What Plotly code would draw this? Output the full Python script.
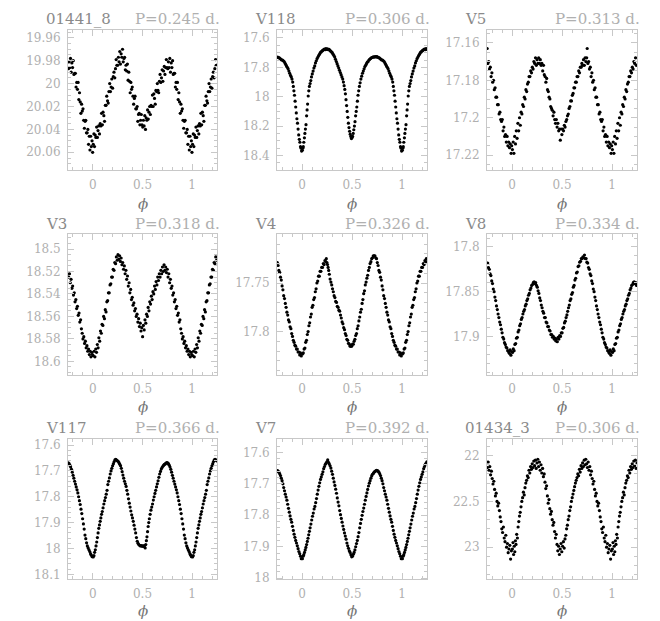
import plotly.graph_objects as go

# ---------------- data (phase in [0,1), magnitude) ----------------
names = ["01441_8", "V118", "V5", "V3", "V4", "V8", "V117", "V7", "01434_3"]
periods = ["0.245", "0.306", "0.313", "0.318", "0.326", "0.334", "0.366", "0.392", "0.306"]

x_tickvals = [0, 0.5, 1]
x_ticktext = ["0", "0.5", "1"]

y_tickvals = [
    [19.96, 19.98, 20.0, 20.02, 20.04, 20.06],
    [17.6, 17.8, 18.0, 18.2, 18.4],
    [17.16, 17.18, 17.2, 17.22],
    [18.5, 18.52, 18.54, 18.56, 18.58, 18.6],
    [17.75, 17.8],
    [17.8, 17.85, 17.9],
    [17.6, 17.7, 17.8, 17.9, 18.0, 18.1],
    [17.6, 17.7, 17.8, 17.9, 18.0],
    [22.0, 22.5, 23.0],
]
y_ticktext = [
    ["19.96", "19.98", "20", "20.02", "20.04", "20.06"],
    ["17.6", "17.8", "18", "18.2", "18.4"],
    ["17.16", "17.18", "17.2", "17.22"],
    ["18.5", "18.52", "18.54", "18.56", "18.58", "18.6"],
    ["17.75", "17.8"],
    ["17.8", "17.85", "17.9"],
    ["17.6", "17.7", "17.8", "17.9", "18", "18.1"],
    ["17.6", "17.7", "17.8", "17.9", "18"],
    ["22", "22.5", "23"],
]

star_01441_8 = [
(0.004,20.053),(0.011,20.044),(0.017,20.055),(0.024,20.045),(0.031,20.047),(0.038,20.038),(0.046,20.047),(0.052,20.041),
(0.059,20.037),(0.067,20.044),(0.074,20.035),(0.081,20.037),(0.088,20.026),(0.096,20.036),(0.103,20.025),(0.111,20.028),
(0.118,20.033),(0.126,20.019),(0.133,20.019),(0.140,20.011),(0.148,20.015),(0.155,20.017),(0.162,20.007),(0.170,20.000),
(0.177,20.007),(0.184,20.003),(0.191,19.996),(0.199,20.004),(0.206,19.994),(0.213,19.990),(0.221,19.995),(0.228,19.987),
(0.235,19.979),(0.242,19.984),(0.250,19.984),(0.257,19.977),(0.264,19.981),(0.271,19.972),(0.278,19.983),(0.285,19.974),
(0.292,19.977),(0.299,19.970),(0.306,19.981),(0.313,19.978),(0.320,19.977),(0.327,19.988),(0.334,19.984),(0.341,19.989),
(0.348,19.983),(0.355,19.997),(0.362,19.990),(0.369,19.998),(0.376,20.008),(0.383,19.999),(0.390,20.005),(0.397,20.003),
(0.404,20.011),(0.411,20.018),(0.418,20.013),(0.425,20.011),(0.432,20.022),(0.439,20.022),(0.446,20.020),(0.453,20.033),
(0.460,20.027),(0.467,20.026),(0.474,20.036),(0.481,20.032),(0.488,20.027),(0.495,20.036),(0.502,20.038),(0.509,20.032),
(0.516,20.037),(0.523,20.028),(0.530,20.040),(0.537,20.030),(0.544,20.032),(0.551,20.023),(0.558,20.031),(0.565,20.025),
(0.572,20.020),(0.579,20.027),(0.586,20.019),(0.593,20.020),(0.600,20.010),(0.607,20.020),(0.614,20.009),(0.621,20.013),
(0.628,20.018),(0.635,20.006),(0.642,20.007),(0.649,20.000),(0.656,20.006),(0.663,20.008),(0.670,19.998),(0.677,19.992),
(0.684,19.999),(0.691,19.995),(0.698,19.988),(0.705,19.998),(0.712,19.989),(0.719,19.985),(0.726,19.992),(0.733,19.986),
(0.740,19.979),(0.747,19.986),(0.754,19.987),(0.761,19.981),(0.768,19.986),(0.775,19.978),(0.782,19.990),(0.789,19.982),
(0.796,19.986),(0.803,19.980),(0.810,19.992),(0.817,19.991),(0.824,19.991),(0.831,20.003),(0.838,19.999),(0.845,20.005),
(0.852,19.999),(0.859,20.014),(0.866,20.008),(0.873,20.016),(0.880,20.026),(0.887,20.018),(0.894,20.024),(0.901,20.022),
(0.908,20.032),(0.915,20.039),(0.922,20.033),(0.929,20.032),(0.936,20.043),(0.943,20.043),(0.950,20.040),(0.957,20.053),
(0.964,20.046),(0.971,20.058),(0.978,20.046),(0.985,20.055),(0.992,20.050),(0.998,20.060),
]

star_V118 = [
(0.003,18.365),(0.008,18.350),(0.013,18.340),(0.018,18.310),(0.024,18.280),(0.029,18.250),(0.034,18.220),(0.040,18.190),
(0.046,18.130),(0.051,18.090),(0.056,18.050),(0.062,17.995),(0.068,17.960),(0.074,17.930),(0.081,17.910),(0.088,17.890),
(0.095,17.865),(0.103,17.845),(0.111,17.825),(0.119,17.805),(0.127,17.790),(0.135,17.770),(0.143,17.755),(0.151,17.740),
(0.159,17.730),(0.167,17.720),(0.175,17.710),(0.183,17.700),(0.191,17.695),(0.199,17.690),(0.207,17.685),(0.215,17.680),
(0.223,17.675),(0.231,17.680),(0.239,17.672),(0.247,17.678),(0.255,17.674),(0.263,17.680),(0.271,17.677),(0.279,17.684),
(0.287,17.690),(0.295,17.695),(0.303,17.700),(0.311,17.710),(0.319,17.720),(0.327,17.730),(0.335,17.745),(0.343,17.760),
(0.351,17.775),(0.359,17.790),(0.367,17.805),(0.375,17.820),(0.383,17.835),(0.391,17.850),(0.399,17.865),(0.407,17.880),
(0.414,17.900),(0.421,17.925),(0.428,17.950),(0.434,17.980),(0.440,18.020),(0.446,18.060),(0.452,18.100),(0.458,18.140),
(0.464,18.180),(0.470,18.210),(0.476,18.235),(0.482,18.255),(0.488,18.270),(0.494,18.285),(0.500,18.280),(0.506,18.270),
(0.512,18.250),(0.518,18.225),(0.524,18.200),(0.530,18.170),(0.536,18.130),(0.542,18.100),(0.548,18.070),(0.554,18.030),
(0.560,17.990),(0.567,17.960),(0.574,17.930),(0.581,17.905),(0.589,17.880),(0.597,17.860),(0.605,17.840),(0.613,17.825),
(0.621,17.810),(0.629,17.795),(0.637,17.785),(0.645,17.775),(0.653,17.765),(0.661,17.760),(0.669,17.750),(0.677,17.745),
(0.685,17.740),(0.693,17.735),(0.701,17.733),(0.709,17.730),(0.717,17.728),(0.725,17.730),(0.733,17.726),(0.741,17.729),
(0.749,17.727),(0.757,17.731),(0.765,17.733),(0.773,17.736),(0.781,17.740),(0.789,17.745),(0.797,17.750),(0.805,17.750),
(0.813,17.755),(0.821,17.760),(0.829,17.770),(0.837,17.780),(0.845,17.790),(0.853,17.800),(0.861,17.810),(0.869,17.825),
(0.877,17.840),(0.885,17.855),(0.893,17.865),(0.900,17.880),(0.907,17.900),(0.913,17.930),(0.919,17.960),(0.925,17.990),
(0.931,18.030),(0.937,18.070),(0.943,18.110),(0.949,18.150),(0.955,18.180),(0.961,18.220),(0.967,18.260),(0.973,18.290),
(0.979,18.310),(0.985,18.340),(0.991,18.350),(0.996,18.370),
]

star_V5 = [
(0.004,17.217),(0.012,17.213),(0.019,17.219),(0.027,17.210),(0.035,17.214),(0.043,17.207),(0.051,17.211),(0.059,17.203),
(0.067,17.207),(0.075,17.200),(0.083,17.204),(0.091,17.197),(0.099,17.198),(0.107,17.193),(0.115,17.194),(0.123,17.189),
(0.131,17.190),(0.139,17.185),(0.147,17.186),(0.155,17.182),(0.163,17.181),(0.171,17.178),(0.179,17.178),(0.187,17.175),
(0.195,17.176),(0.203,17.173),(0.211,17.174),(0.219,17.170),(0.227,17.171),(0.235,17.168),(0.243,17.172),(0.251,17.169),
(0.259,17.171),(0.267,17.168),(0.275,17.171),(0.283,17.169),(0.291,17.172),(0.299,17.171),(0.307,17.175),(0.315,17.172),
(0.323,17.177),(0.331,17.178),(0.339,17.181),(0.347,17.179),(0.355,17.185),(0.363,17.186),(0.371,17.189),(0.379,17.190),
(0.387,17.194),(0.395,17.195),(0.403,17.196),(0.411,17.199),(0.419,17.197),(0.427,17.201),(0.435,17.203),(0.443,17.201),
(0.451,17.205),(0.459,17.203),(0.467,17.207),(0.475,17.206),(0.483,17.212),(0.491,17.206),(0.499,17.209),(0.507,17.206),
(0.515,17.207),(0.523,17.204),(0.531,17.205),(0.539,17.202),(0.547,17.201),(0.555,17.199),(0.563,17.198),(0.571,17.195),
(0.579,17.194),(0.587,17.191),(0.595,17.191),(0.603,17.188),(0.611,17.187),(0.619,17.184),(0.627,17.184),(0.635,17.181),
(0.643,17.181),(0.651,17.178),(0.659,17.178),(0.667,17.175),(0.675,17.176),(0.683,17.173),(0.691,17.173),(0.699,17.171),
(0.707,17.172),(0.715,17.169),(0.723,17.172),(0.731,17.168),(0.739,17.170),(0.747,17.168),(0.752,17.163),(0.759,17.171),
(0.767,17.170),(0.775,17.174),(0.783,17.173),(0.791,17.178),(0.799,17.176),(0.807,17.181),(0.815,17.180),(0.823,17.185),
(0.831,17.184),(0.839,17.189),(0.847,17.189),(0.855,17.193),(0.863,17.193),(0.871,17.198),(0.879,17.197),(0.887,17.201),
(0.895,17.202),(0.903,17.201),(0.911,17.207),(0.919,17.205),(0.927,17.210),(0.935,17.209),(0.943,17.213),(0.951,17.210),
(0.959,17.215),(0.967,17.213),(0.975,17.216),(0.983,17.214),(0.991,17.219),(0.997,17.215),
]

star_V3 = [
(0.005,18.595),(0.013,18.591),(0.021,18.596),(0.029,18.589),(0.037,18.592),(0.045,18.585),(0.053,18.588),(0.061,18.579),
(0.069,18.582),(0.077,18.573),(0.085,18.575),(0.093,18.567),(0.101,18.568),(0.109,18.560),(0.117,18.562),(0.125,18.554),
(0.133,18.556),(0.141,18.547),(0.149,18.546),(0.157,18.539),(0.165,18.539),(0.173,18.532),(0.181,18.531),(0.189,18.525),
(0.197,18.525),(0.205,18.518),(0.213,18.519),(0.221,18.512),(0.229,18.513),(0.237,18.507),(0.245,18.510),(0.253,18.505),
(0.261,18.509),(0.269,18.506),(0.277,18.511),(0.285,18.508),(0.293,18.514),(0.301,18.512),(0.309,18.518),(0.317,18.515),
(0.325,18.522),(0.333,18.519),(0.341,18.527),(0.349,18.524),(0.357,18.533),(0.365,18.530),(0.373,18.539),(0.381,18.536),
(0.389,18.545),(0.397,18.543),(0.405,18.550),(0.413,18.548),(0.421,18.555),(0.429,18.553),(0.437,18.560),(0.445,18.558),
(0.453,18.565),(0.461,18.562),(0.469,18.569),(0.477,18.566),(0.485,18.573),(0.493,18.570),(0.501,18.578),(0.509,18.568),
(0.517,18.572),(0.525,18.563),(0.533,18.566),(0.541,18.558),(0.549,18.560),(0.557,18.552),(0.565,18.555),(0.573,18.547),
(0.581,18.549),(0.589,18.542),(0.597,18.545),(0.605,18.538),(0.613,18.540),(0.621,18.533),(0.629,18.536),(0.637,18.529),
(0.645,18.532),(0.653,18.525),(0.661,18.528),(0.669,18.522),(0.677,18.525),(0.685,18.519),(0.693,18.522),(0.701,18.516),
(0.709,18.520),(0.717,18.514),(0.725,18.519),(0.733,18.516),(0.741,18.521),(0.749,18.518),(0.757,18.525),(0.765,18.522),
(0.773,18.530),(0.781,18.527),(0.789,18.535),(0.797,18.533),(0.805,18.541),(0.813,18.539),(0.821,18.547),(0.829,18.545),
(0.837,18.553),(0.845,18.551),(0.853,18.559),(0.861,18.557),(0.869,18.565),(0.877,18.563),(0.885,18.571),(0.893,18.575),
(0.901,18.580),(0.909,18.578),(0.917,18.584),(0.925,18.582),(0.933,18.588),(0.941,18.586),(0.949,18.591),(0.957,18.589),
(0.965,18.594),(0.973,18.591),(0.981,18.596),(0.989,18.592),(0.996,18.594),
]

star_V4 = [
(0.005,17.823),(0.013,17.822),(0.021,17.818),(0.029,17.817),(0.037,17.811),(0.045,17.809),(0.053,17.803),(0.061,17.800),
(0.069,17.794),(0.077,17.791),(0.085,17.785),(0.093,17.782),(0.101,17.775),(0.109,17.773),(0.117,17.767),(0.125,17.765),
(0.133,17.759),(0.141,17.756),(0.149,17.750),(0.157,17.748),(0.165,17.743),(0.173,17.743),(0.181,17.738),(0.189,17.738),
(0.197,17.734),(0.205,17.734),(0.213,17.730),(0.221,17.731),(0.229,17.727),(0.237,17.728),(0.243,17.725),(0.249,17.729),
(0.255,17.731),(0.261,17.734),(0.267,17.737),(0.273,17.741),(0.281,17.746),(0.289,17.749),(0.297,17.752),(0.305,17.756),
(0.313,17.759),(0.321,17.763),(0.329,17.765),(0.337,17.769),(0.345,17.770),(0.353,17.774),(0.361,17.775),(0.369,17.778),
(0.377,17.779),(0.385,17.783),(0.393,17.786),(0.401,17.790),(0.409,17.792),(0.417,17.796),(0.425,17.798),(0.433,17.802),
(0.441,17.804),(0.449,17.808),(0.457,17.809),(0.465,17.812),(0.473,17.813),(0.481,17.815),(0.489,17.815),(0.497,17.815),
(0.505,17.813),(0.513,17.813),(0.521,17.810),(0.529,17.808),(0.537,17.804),(0.545,17.802),(0.553,17.797),(0.561,17.794),
(0.569,17.789),(0.577,17.785),(0.585,17.780),(0.593,17.777),(0.601,17.771),(0.609,17.767),(0.617,17.761),(0.625,17.758),
(0.633,17.752),(0.641,17.749),(0.649,17.745),(0.657,17.742),(0.665,17.737),(0.673,17.734),(0.681,17.730),(0.689,17.728),
(0.697,17.725),(0.705,17.724),(0.713,17.722),(0.721,17.722),(0.729,17.722),(0.737,17.724),(0.745,17.725),(0.753,17.729),
(0.761,17.732),(0.769,17.737),(0.777,17.739),(0.785,17.744),(0.793,17.747),(0.801,17.753),(0.809,17.757),(0.817,17.763),
(0.825,17.766),(0.833,17.771),(0.841,17.775),(0.849,17.780),(0.857,17.783),(0.865,17.788),(0.873,17.790),(0.881,17.795),
(0.889,17.797),(0.897,17.802),(0.905,17.805),(0.913,17.809),(0.921,17.811),(0.929,17.814),(0.937,17.815),(0.945,17.818),
(0.953,17.818),(0.961,17.821),(0.969,17.821),(0.977,17.824),(0.985,17.822),(0.993,17.825),
]

star_V8 = [
(0.005,17.918),(0.013,17.914),(0.021,17.916),(0.029,17.909),(0.037,17.908),(0.045,17.902),(0.053,17.901),(0.061,17.895),
(0.069,17.893),(0.077,17.888),(0.085,17.886),(0.093,17.881),(0.101,17.879),(0.109,17.875),(0.117,17.872),(0.125,17.870),
(0.133,17.866),(0.141,17.864),(0.149,17.860),(0.157,17.858),(0.165,17.854),(0.173,17.852),(0.181,17.848),(0.189,17.846),
(0.197,17.843),(0.205,17.842),(0.213,17.840),(0.221,17.839),(0.229,17.841),(0.237,17.840),(0.245,17.843),(0.253,17.845),
(0.261,17.849),(0.269,17.852),(0.277,17.857),(0.285,17.860),(0.293,17.865),(0.301,17.868),(0.309,17.872),(0.317,17.874),
(0.325,17.879),(0.333,17.879),(0.341,17.884),(0.349,17.885),(0.357,17.889),(0.365,17.889),(0.373,17.893),(0.381,17.894),
(0.389,17.898),(0.397,17.898),(0.405,17.901),(0.413,17.900),(0.421,17.903),(0.429,17.902),(0.437,17.905),(0.445,17.903),
(0.453,17.906),(0.461,17.901),(0.469,17.903),(0.477,17.899),(0.485,17.900),(0.493,17.896),(0.501,17.896),(0.509,17.891),
(0.517,17.890),(0.525,17.885),(0.533,17.883),(0.541,17.879),(0.549,17.876),(0.557,17.872),(0.565,17.868),(0.573,17.865),
(0.581,17.860),(0.589,17.858),(0.597,17.853),(0.605,17.851),(0.613,17.845),(0.621,17.843),(0.629,17.837),(0.637,17.835),
(0.645,17.829),(0.653,17.828),(0.661,17.822),(0.669,17.821),(0.677,17.817),(0.685,17.816),(0.693,17.813),(0.701,17.813),
(0.709,17.811),(0.717,17.812),(0.725,17.809),(0.733,17.813),(0.741,17.813),(0.749,17.817),(0.757,17.818),(0.765,17.823),
(0.773,17.825),(0.781,17.830),(0.789,17.832),(0.797,17.838),(0.805,17.841),(0.813,17.847),(0.821,17.850),(0.829,17.856),
(0.837,17.860),(0.845,17.866),(0.853,17.870),(0.861,17.875),(0.869,17.879),(0.877,17.884),(0.885,17.887),(0.893,17.892),
(0.901,17.896),(0.909,17.901),(0.917,17.903),(0.925,17.907),(0.933,17.909),(0.941,17.912),(0.949,17.913),(0.957,17.916),
(0.965,17.917),(0.973,17.919),(0.981,17.915),(0.989,17.921),(0.996,17.917),
]

star_V117 = [
(0.004,18.033),(0.011,18.028),(0.018,18.015),(0.025,18.005),(0.032,17.990),(0.039,17.975),(0.046,17.958),(0.053,17.940),
(0.060,17.922),(0.067,17.909),(0.074,17.895),(0.081,17.882),(0.088,17.868),(0.095,17.857),(0.103,17.843),(0.111,17.828),
(0.119,17.815),(0.127,17.803),(0.135,17.790),(0.143,17.775),(0.151,17.753),(0.159,17.740),(0.167,17.727),(0.175,17.712),
(0.183,17.700),(0.191,17.690),(0.199,17.680),(0.207,17.672),(0.215,17.664),(0.223,17.657),(0.231,17.655),(0.239,17.658),
(0.247,17.661),(0.255,17.663),(0.263,17.668),(0.271,17.674),(0.279,17.680),(0.287,17.690),(0.295,17.703),(0.303,17.716),
(0.311,17.728),(0.319,17.740),(0.327,17.750),(0.335,17.760),(0.343,17.775),(0.351,17.790),(0.359,17.808),(0.367,17.825),
(0.375,17.840),(0.383,17.855),(0.391,17.870),(0.399,17.882),(0.407,17.895),(0.415,17.910),(0.423,17.925),(0.431,17.940),
(0.439,17.958),(0.447,17.972),(0.455,17.980),(0.463,17.985),(0.471,17.988),(0.479,17.990),(0.487,17.989),(0.495,17.991),
(0.503,17.990),(0.511,17.992),(0.519,17.989),(0.527,17.998),(0.533,17.985),(0.539,17.970),(0.545,17.955),(0.551,17.935),
(0.557,17.915),(0.563,17.900),(0.569,17.885),(0.577,17.868),(0.585,17.852),(0.593,17.840),(0.601,17.828),(0.609,17.813),
(0.617,17.800),(0.625,17.787),(0.633,17.775),(0.641,17.762),(0.649,17.750),(0.657,17.738),(0.665,17.725),(0.673,17.712),
(0.681,17.702),(0.689,17.693),(0.697,17.687),(0.705,17.682),(0.713,17.678),(0.721,17.675),(0.729,17.673),(0.737,17.670),
(0.745,17.668),(0.753,17.669),(0.761,17.672),(0.769,17.678),(0.777,17.685),(0.785,17.694),(0.793,17.705),(0.801,17.717),
(0.809,17.728),(0.817,17.740),(0.825,17.751),(0.833,17.762),(0.841,17.773),(0.849,17.785),(0.857,17.800),(0.865,17.815),
(0.873,17.830),(0.881,17.848),(0.889,17.865),(0.897,17.885),(0.905,17.905),(0.913,17.925),(0.921,17.948),(0.929,17.962),
(0.937,17.978),(0.945,17.990),(0.953,17.998),(0.961,18.005),(0.969,18.012),(0.977,18.020),(0.985,18.026),(0.993,18.032),
]

star_V7 = [
(0.004,17.938),(0.011,17.930),(0.018,17.925),(0.025,17.918),(0.032,17.910),(0.039,17.902),(0.046,17.893),(0.053,17.883),
(0.060,17.873),(0.067,17.862),(0.074,17.851),(0.081,17.840),(0.089,17.828),(0.097,17.815),(0.105,17.803),(0.113,17.793),
(0.121,17.780),(0.129,17.772),(0.137,17.760),(0.145,17.747),(0.153,17.733),(0.161,17.720),(0.169,17.708),(0.177,17.697),
(0.185,17.686),(0.193,17.678),(0.201,17.670),(0.209,17.662),(0.217,17.652),(0.225,17.645),(0.233,17.638),(0.241,17.634),
(0.249,17.630),(0.257,17.624),(0.265,17.632),(0.273,17.637),(0.281,17.643),(0.289,17.650),(0.297,17.660),(0.305,17.670),
(0.313,17.682),(0.321,17.694),(0.329,17.705),(0.337,17.717),(0.345,17.730),(0.353,17.745),(0.361,17.758),(0.369,17.770),
(0.377,17.785),(0.385,17.798),(0.393,17.810),(0.401,17.822),(0.409,17.834),(0.417,17.845),(0.425,17.856),(0.433,17.866),
(0.441,17.876),(0.449,17.888),(0.457,17.897),(0.465,17.905),(0.473,17.913),(0.481,17.918),(0.489,17.925),(0.497,17.932),
(0.505,17.930),(0.513,17.924),(0.521,17.918),(0.529,17.910),(0.537,17.900),(0.545,17.890),(0.553,17.880),(0.561,17.868),
(0.569,17.855),(0.577,17.840),(0.585,17.826),(0.593,17.813),(0.601,17.800),(0.609,17.788),(0.617,17.777),(0.625,17.765),
(0.633,17.752),(0.641,17.740),(0.649,17.729),(0.657,17.718),(0.665,17.707),(0.673,17.698),(0.681,17.690),(0.689,17.682),
(0.697,17.675),(0.705,17.670),(0.713,17.667),(0.721,17.663),(0.729,17.661),(0.737,17.659),(0.745,17.657),(0.753,17.658),
(0.761,17.660),(0.769,17.663),(0.777,17.668),(0.785,17.674),(0.793,17.682),(0.801,17.690),(0.809,17.700),(0.817,17.712),
(0.825,17.722),(0.833,17.733),(0.841,17.742),(0.849,17.752),(0.857,17.765),(0.865,17.778),(0.873,17.790),(0.881,17.802),
(0.889,17.813),(0.897,17.822),(0.905,17.835),(0.913,17.848),(0.921,17.860),(0.929,17.870),(0.937,17.880),(0.945,17.888),
(0.953,17.897),(0.961,17.906),(0.969,17.915),(0.977,17.922),(0.985,17.930),(0.993,17.938),
]

star_01434_3 = [
(0.004,23.02),(0.010,22.95),(0.016,23.08),(0.022,22.99),(0.028,23.05),(0.034,22.93),(0.040,22.97),(0.047,22.86),
(0.054,22.90),(0.061,22.78),(0.068,22.72),(0.075,22.66),(0.082,22.62),(0.090,22.56),(0.098,22.50),(0.106,22.46),
(0.114,22.40),(0.122,22.43),(0.130,22.35),(0.138,22.30),(0.146,22.27),(0.154,22.22),(0.162,22.24),(0.170,22.16),
(0.178,22.19),(0.186,22.12),(0.194,22.15),(0.202,22.09),(0.210,22.13),(0.218,22.06),(0.226,22.11),(0.234,22.05),
(0.242,22.14),(0.250,22.08),(0.258,22.04),(0.266,22.12),(0.274,22.07),(0.282,22.16),(0.290,22.10),(0.298,22.19),
(0.306,22.14),(0.314,22.23),(0.322,22.20),(0.330,22.29),(0.338,22.36),(0.346,22.33),(0.354,22.44),(0.362,22.52),
(0.370,22.48),(0.378,22.58),(0.386,22.64),(0.394,22.61),(0.402,22.70),(0.410,22.76),(0.418,22.73),(0.426,22.83),
(0.434,22.90),(0.442,22.86),(0.450,22.97),(0.458,23.04),(0.466,22.99),(0.474,23.08),(0.482,23.02),(0.490,22.96),
(0.498,23.05),(0.506,22.99),(0.514,22.94),(0.522,23.01),(0.530,22.91),(0.538,22.87),(0.546,22.80),(0.554,22.76),
(0.562,22.70),(0.570,22.66),(0.578,22.60),(0.586,22.56),(0.594,22.50),(0.602,22.46),(0.610,22.42),(0.618,22.38),
(0.626,22.34),(0.634,22.30),(0.642,22.27),(0.650,22.24),(0.658,22.20),(0.666,22.22),(0.674,22.15),(0.682,22.18),
(0.690,22.11),(0.698,22.14),(0.706,22.08),(0.714,22.12),(0.722,22.05),(0.730,22.10),(0.738,22.04),(0.746,22.09),
(0.754,22.13),(0.762,22.07),(0.770,22.16),(0.778,22.12),(0.786,22.21),(0.794,22.17),(0.802,22.25),(0.810,22.31),
(0.818,22.28),(0.826,22.37),(0.834,22.44),(0.842,22.41),(0.850,22.50),(0.858,22.55),(0.866,22.52),(0.874,22.60),
(0.882,22.67),(0.890,22.72),(0.898,22.80),(0.906,22.84),(0.914,22.78),(0.922,22.90),(0.930,22.94),(0.938,22.87),
(0.946,23.00),(0.954,22.96),(0.962,23.06),(0.970,23.02),(0.978,22.98),(0.986,23.13),(0.994,23.04),
]

all_points = [star_01441_8, star_V118, star_V5, star_V3, star_V4, star_V8, star_V117, star_V7, star_01434_3]

# ---------------- layout / style ----------------
W, H = 660, 621
col_px = [(60, 209), (269, 419), (479, 629)]
row_px = [(21, 163), (228, 370), (435, 577)]
y_ranges = [
    (20.0756, 19.953), (18.50, 17.544), (17.228, 17.153),
    (18.612, 18.487), (17.8445, 17.700), (17.943, 17.786),
    (18.12, 17.577), (18.004, 17.558), (23.353, 21.82),
]
y_minor = [0.005, 0.05, 0.005, 0.005, 0.01, 0.01, 0.02, 0.02, 0.1]
phi_offset = [34, 33, 32]

FONT = "DejaVu Serif"
FRAME = "#c8c8c8"
TICKTXT = "#b0b0b0"

fig = go.Figure()
annotations = []
for i in range(9):
    r, c = divmod(i, 3)
    k = "" if i == 0 else str(i + 1)
    xs, ys = [], []
    for ph, m in all_points[i]:
        xs.append(ph); ys.append(m)
        if ph >= 0.75:
            xs.append(ph - 1); ys.append(m)
        if ph <= 0.25:
            xs.append(ph + 1); ys.append(m)
    fig.add_trace(go.Scatter(
        x=xs, y=ys, mode="markers", xaxis="x" + k, yaxis="y" + k,
        marker=dict(color="black", size=3.2, line=dict(width=0)),
        showlegend=False, hoverinfo="skip"))

    x0, x1 = col_px[c]
    t0, t1 = row_px[r]
    common = dict(showline=True, linecolor=FRAME, linewidth=1, mirror="ticks",
                  ticks="inside", ticklen=6, tickcolor=FRAME, tickwidth=1,
                  showgrid=False, zeroline=False,
                  tickfont=dict(family=FONT, size=12, color=TICKTXT))
    fig.layout["xaxis" + k] = dict(
        common, domain=[x0 / W, x1 / W], anchor="y" + k, range=[-0.25, 1.25],
        tickmode="array", tickvals=x_tickvals, ticktext=x_ticktext,
        ticklabelstandoff=3,
        minor=dict(tickmode="linear", tick0=0, dtick=0.1, ticks="inside",
                   ticklen=3, tickcolor=FRAME, tickwidth=1, showgrid=False))
    fig.layout["yaxis" + k] = dict(
        common, domain=[1 - t1 / H, 1 - t0 / H], anchor="x" + k,
        range=list(y_ranges[i]),
        tickmode="array", tickvals=y_tickvals[i], ticktext=y_ticktext[i],
        ticklabelstandoff=4,
        minor=dict(tickmode="linear", tick0=y_tickvals[i][0], dtick=y_minor[i],
                   ticks="inside", ticklen=3, tickcolor=FRAME, tickwidth=1,
                   showgrid=False))

    ty = 1 - (t0 - 11) / H
    annotations.append(dict(text=names[i], xref="paper", yref="paper",
                            x=(x0 - 24) / W, y=ty, xanchor="left", yanchor="middle",
                            showarrow=False,
                            font=dict(family=FONT, size=15, color="#8a8a8a")))
    annotations.append(dict(text="P=" + periods[i] + " d.", xref="paper", yref="paper",
                            x=(x1 + 5) / W, y=ty, xanchor="right", yanchor="middle",
                            showarrow=False,
                            font=dict(family=FONT, size=15, color="#b0b0b0")))
    annotations.append(dict(text="<i>ϕ</i>", xref="paper", yref="paper",
                            x=((x0 + x1) / 2) / W, y=1 - (t1 + phi_offset[r]) / H,
                            xanchor="center", yanchor="middle", showarrow=False,
                            font=dict(family=FONT, size=15, color="#777777")))

fig.update_layout(width=W, height=H, margin=dict(l=0, r=0, t=0, b=0),
                  paper_bgcolor="white", plot_bgcolor="white",
                  annotations=annotations)
fig.write_html("out.html")
